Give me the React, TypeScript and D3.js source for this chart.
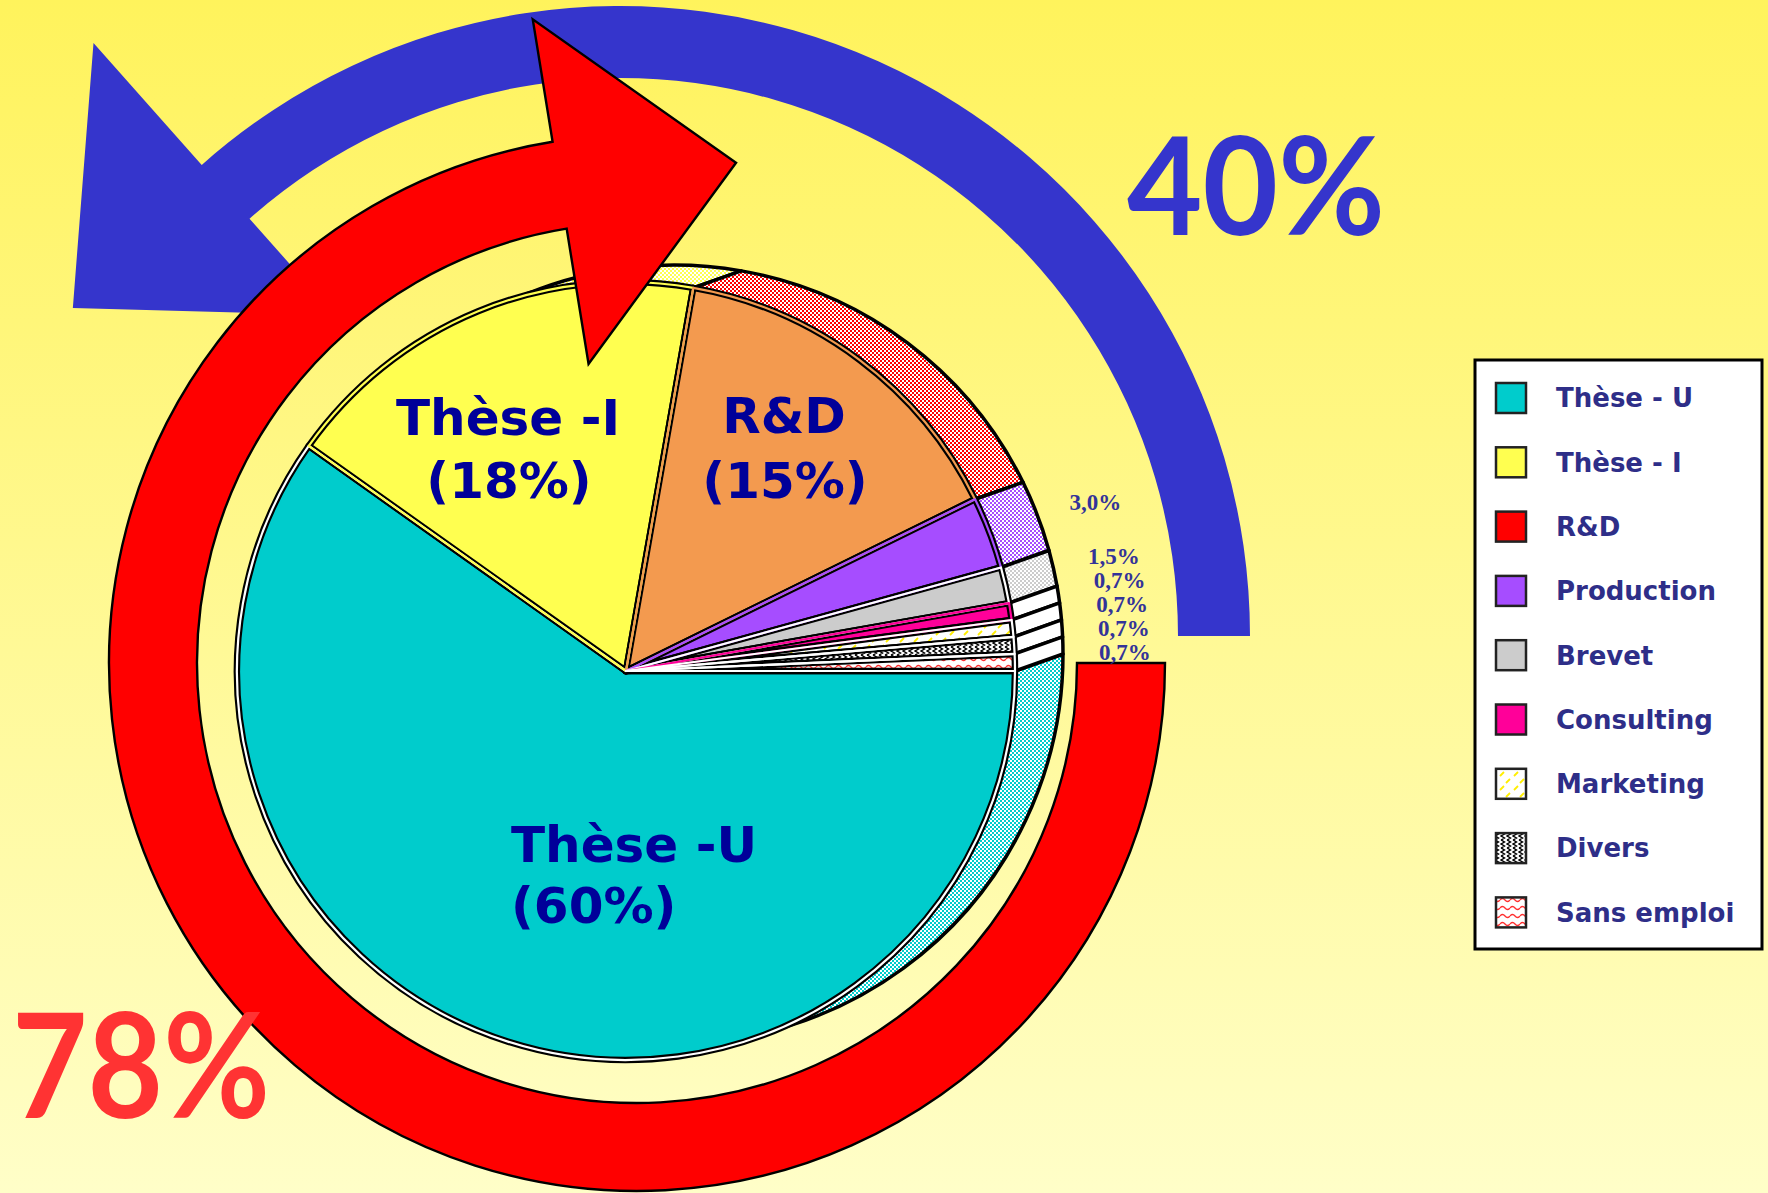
import React from "react";
import * as d3 from "d3";

const W = 1768;
const H = 1193;

// ---- data ----
const categories = ["Thèse - U", "Thèse - I", "R&D", "Production", "Brevet", "Consulting", "Marketing", "Divers", "Sans emploi"];
const shares = [60, 18, 15, 3.0, 1.5, 0.7, 0.7, 0.7, 0.7];
const faceFills = ["#00CCCC", "#FFFF50", "#F39A4F", "#A64DFF", "#CCCCCC", "#FF0099", "url(#pMarketing)", "url(#pDivers)", "url(#pSans)"];
const legendFills = ["#00CCCC", "#FFFF50", "#FF0000", "#A64DFF", "#CCCCCC", "#FF0099", "url(#pMarketing)", "url(#pDivers)", "url(#pSans)"];
const sideFills = ["url(#sCyan)", "url(#sYellow)", "url(#sRed)", "url(#sPurple)", "url(#sGray)", "#FFFFFF", "#FFFFFF", "#FFFFFF", "#FFFFFF"];
const edgeMiddle = ["#FFFFFF", "#FFFF50", "#F39A4F", "#A64DFF", "#FFFFFF", "#FF0099", "#FFFFFF", "#FFFFFF", "#FFFFFF"];
const dataLabelFrom = 3;
const sliceTitles = [["Thèse -U", "(60%)"], ["Thèse -I", "(18%)"], ["R&D", "(15%)"]];
const ringTexts = ["78%", "40%"];

// ---- layout ----
const deg = Math.PI / 180;
const PIE = { cx: 626, cy: 671, r: 389, dx: 48, dy: -17 };
const LBL = { ox: 23, oy: -1, r: 450, gap: 24 };
const titlePos = [
  [{ x: -115, y: 191, a: "start" }, { x: -115, y: 252, a: "start" }],
  [{ x: -118, y: -236, a: "middle" }, { x: -117, y: -173, a: "middle" }],
  [{ x: 158, y: -238, a: "middle" }, { x: 159, y: -173, a: "middle" }],
];
const RED = { cx: 637, cy: 663, ro: 528, ri: 440, a0: 0, a1: 260.8, hOut: 652, hIn: 303, tipR: 510, tipA: 281.2, ccw: false };
const BLUE = { cx: 620, cy: 636, ro: 630, ri: 558, a0: 0, a1: -131.6, hOut: 793, hIn: 429, tipR: 638, tipA: -149.05, ccw: true };
const LEG = { x: 1475, y: 360, w: 287, h: 589, sx: 1496, sw: 30, tx: 1556, y0: 398, step: 64.3 };

const frPct = (v: number) => d3.format(".1f")(v).replace(".", ",") + "%";

function ringArrow(g: typeof RED) {
  const pt = (r: number, a: number): [number, number] => [g.cx + r * Math.cos(a * deg), g.cy + r * Math.sin(a * deg)];
  const p = d3.path();
  const s = pt(g.ro, g.a0);
  p.moveTo(s[0], s[1]);
  p.arc(g.cx, g.cy, g.ro, g.a0 * deg, g.a1 * deg, g.ccw);
  const ho = pt(g.hOut, g.a1);
  p.lineTo(ho[0], ho[1]);
  const t = pt(g.tipR, g.tipA);
  p.lineTo(t[0], t[1]);
  const hi = pt(g.hIn, g.a1);
  p.lineTo(hi[0], hi[1]);
  const ie = pt(g.ri, g.a1);
  p.lineTo(ie[0], ie[1]);
  p.arc(g.cx, g.cy, g.ri, g.a1 * deg, g.a0 * deg, !g.ccw);
  p.closePath();
  return p.toString();
}

function checker(id: string, color: string) {
  return (
    <pattern id={id} width="4" height="4" patternUnits="userSpaceOnUse" key={id}>
      <rect width="4" height="4" fill="#FFFFFF" />
      <rect width="2" height="2" fill={color} />
      <rect x="2" y="2" width="2" height="2" fill={color} />
    </pattern>
  );
}

export default function App() {
  const pie = d3
    .pie<number>()
    .sort(null)
    .value((d) => d)
    .startAngle(Math.PI / 2)
    .endAngle(Math.PI / 2 + 2 * Math.PI);
  const arcs = pie(shares);
  const arcGen = d3.arc<d3.PieArcDatum<number>>().innerRadius(0).outerRadius(PIE.r);

  const sidePath = (a: d3.PieArcDatum<number>) => {
    const a0 = a.startAngle - Math.PI / 2;
    const a1 = a.endAngle - Math.PI / 2;
    const p = d3.path();
    p.moveTo(PIE.cx + PIE.r * Math.cos(a0), PIE.cy + PIE.r * Math.sin(a0));
    p.arc(PIE.cx, PIE.cy, PIE.r, a0, a1, false);
    p.lineTo(PIE.cx + PIE.dx + PIE.r * Math.cos(a1), PIE.cy + PIE.dy + PIE.r * Math.sin(a1));
    p.arc(PIE.cx + PIE.dx, PIE.cy + PIE.dy, PIE.r, a1, a0, true);
    p.closePath();
    return p.toString();
  };

  // data labels for small slices, pushed upward to avoid overlap
  const lab = arcs.map((a, i) => {
    const mid = (a.startAngle + a.endAngle) / 2 - Math.PI / 2;
    return {
      i,
      x: PIE.cx + LBL.ox + LBL.r * Math.cos(mid),
      y: PIE.cy + LBL.oy + LBL.r * Math.sin(mid),
    };
  });
  for (let i = shares.length - 2; i >= dataLabelFrom; i--) {
    lab[i].y = Math.min(lab[i].y, lab[i + 1].y - LBL.gap);
  }

  return (
    <svg
      width={W}
      height={H}
      viewBox={`0 0 ${W} ${H}`}
      style={{ position: "absolute", left: 0, top: 0, display: "block" }}
    >
      <defs>
        <linearGradient id="bg" x1="0" y1="0" x2="0" y2="1">
          <stop offset="0" stopColor="#FFF35C" />
          <stop offset="1" stopColor="#FFFEC8" />
        </linearGradient>
        {checker("sCyan", "#00CCCC")}
        {checker("sYellow", "#FFFF50")}
        {checker("sRed", "#FF0000")}
        {checker("sPurple", "#A64DFF")}
        {checker("sGray", "#CCCCCC")}
        <pattern id="pMarketing" width="14" height="14" patternUnits="userSpaceOnUse">
          <rect width="14" height="14" fill="#FFFFFF" />
          <path d="M2 6 L6 2 M8 13 L12 9" stroke="#FFEE00" strokeWidth="1.8" />
        </pattern>
        <pattern id="pDivers" width="6" height="8" patternUnits="userSpaceOnUse">
          <rect width="6" height="8" fill="#FFFFFF" />
          <path d="M1 0 L4.5 2 L1 4 L4.5 6 L1 8" stroke="#000000" strokeWidth="1.4" fill="none" />
        </pattern>
        <pattern id="pSans" width="10" height="8" patternUnits="userSpaceOnUse">
          <rect width="10" height="8" fill="#FFFFFF" />
          <path d="M0 4 Q2.5 1 5 4 T10 4" stroke="#FF3030" strokeWidth="1.3" fill="none" />
        </pattern>
      </defs>

      <rect x="0" y="0" width={W} height={H} fill="url(#bg)" />

      {/* blue arrow */}
      <path d={ringArrow(BLUE)} fill="#3535CC" />

      {/* pie sides (3D depth) */}
      <g>
        {arcs.map((a, i) => (
          <path key={"s" + i} d={sidePath(a)} fill={sideFills[i]} stroke="#000" strokeWidth={3.5} strokeLinejoin="round" />
        ))}
      </g>

      {/* pie faces */}
      <g transform={`translate(${PIE.cx},${PIE.cy})`}>
        {arcs.map((a, i) => (
          <path key={"f" + i} d={arcGen(a) || ""} fill={faceFills[i]} stroke="#000" strokeWidth={6.5} strokeLinejoin="round" />
        ))}
        {arcs.map((a, i) => (
          <path key={"m" + i} d={arcGen(a) || ""} fill="none" stroke={edgeMiddle[i]} strokeWidth={2.2} strokeLinejoin="round" />
        ))}
      </g>

      {/* red arrow */}
      <path d={ringArrow(RED)} fill="#FF0000" stroke="#000" strokeWidth={2.4} strokeLinejoin="miter" />

      {/* slice titles */}
      {sliceTitles.map((lines, i) =>
        lines.map((t, j) => (
          <text
            key={"t" + i + j}
            x={PIE.cx + titlePos[i][j].x}
            y={PIE.cy + titlePos[i][j].y}
            textAnchor={titlePos[i][j].a as any}
            fontFamily="'DejaVu Sans', sans-serif"
            fontWeight="bold"
            fontSize={50}
            fill="#000099"
          >
            {t}
          </text>
        ))
      )}

      {/* small data labels */}
      {lab
        .filter((l) => l.i >= dataLabelFrom)
        .map((l) => (
          <text
            key={"l" + l.i}
            x={l.x}
            y={l.y}
            fontFamily="'Liberation Serif', serif"
            fontWeight="bold"
            fontSize={23}
            fill="#333399"
          >
            {frPct(shares[l.i])}
          </text>
        ))}

      {/* ring percentages */}
      <text x={12} y={1118} fontFamily="Lato, sans-serif" fontWeight="bold" fontSize={146} fill="#FF3333" textLength={258} lengthAdjust="spacingAndGlyphs">
        {ringTexts[0]}
      </text>
      <text x={1127} y={235} fontFamily="Lato, sans-serif" fontWeight="bold" fontSize={136} fill="#3535CC" textLength={258} lengthAdjust="spacingAndGlyphs">
        {ringTexts[1]}
      </text>

      {/* legend */}
      <rect x={LEG.x} y={LEG.y} width={LEG.w} height={LEG.h} fill="#FFFFFF" stroke="#000" strokeWidth={3} />
      {categories.map((c, i) => {
        const yc = LEG.y0 + i * LEG.step;
        return (
          <g key={"g" + i}>
            <rect x={LEG.sx} y={yc - LEG.sw / 2} width={LEG.sw} height={LEG.sw} fill={legendFills[i]} stroke="#222" strokeWidth={2.5} />
            <text x={LEG.tx} y={yc} dy="0.36em" fontFamily="'DejaVu Sans', sans-serif" fontWeight="bold" fontSize={26} fill="#2E2E88">
              {c}
            </text>
          </g>
        );
      })}
    </svg>
  );
}
